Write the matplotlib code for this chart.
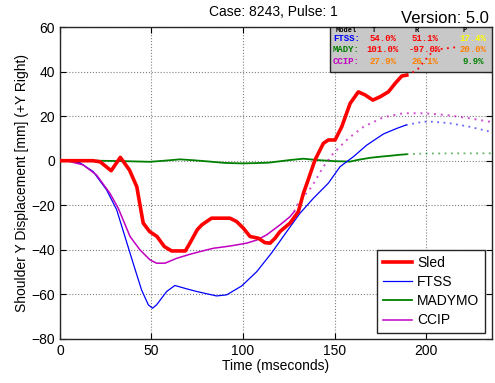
import matplotlib
matplotlib.use('Agg')
import matplotlib.pyplot as plt
from matplotlib.patches import Rectangle

plt.rcParams['font.family'] = ['Liberation Sans', 'DejaVu Sans']

# Sled (measured)
sled_t = [0, 10, 18, 22, 28, 33, 38, 42, 45.5, 49, 53, 57, 61, 65, 68.5, 71, 75, 77.5,
          82.8, 92.9, 96.5, 100.2, 103.8, 108.4, 112, 114.8, 117.5, 120.2, 125.7, 130.2,
          133, 135, 139.3, 143.9, 146.6, 150.3, 153.9, 158.5, 163, 166.7, 170.9, 174.9,
          179.4, 183.1, 186.7, 189.4]
sled_v = [0, 0, 0, -0.5, -4.5, 1.5, -4.2, -11.7, -28, -31.8, -34, -38.5, -40.5, -40.5,
          -40.5, -37, -31, -28.8, -25.8, -25.8, -27.3, -30.3, -34, -34.8, -36.8, -37,
          -34.8, -31.8, -28, -22.9, -14.6, -10, 0.3, 7.8, 9.3, 9.3, 15.2, 25.7, 30.9,
          29.5, 27.2, 28.7, 30.9, 34.7, 38, 38.4]
sled_ext_t = [189.4, 195, 199.5, 203.3, 207.7, 217]
sled_ext_v = [38.4, 40.6, 45.2, 48.8, 50.1, 51]

# FTSS
ftss_t = [0, 5, 10.9, 18.2, 25.5, 31, 35.5, 40, 44.6, 48.3, 50.6, 52.8, 58.3, 62.8,
          69.2, 74.7, 85.6, 91.1, 99.3, 107.5, 115.7, 123.9, 131.1, 138.4, 146.6, 153,
          160.3, 167.6, 176.7, 184, 189]
ftss_v = [0, -0.1, -0.9, -4.9, -13.1, -22, -34, -46, -58, -64.7, -66.2, -64.7, -58.7,
          -56, -57.5, -58.7, -60.7, -60.2, -56.2, -49.8, -41.3, -31.8, -23.6, -16.9,
          -10.1, -2.7, 1.8, 7, 12, 14.5, 16]
ftss_ext_t = [189, 198.5, 204, 213, 224, 236]
ftss_ext_v = [16, 17.5, 17.5, 16.8, 15.2, 12.8]

# MADYMO
mady_t = [0, 20, 35, 49, 57, 65.6, 73, 81.9, 90, 99.3, 106, 113.8, 125.7, 133, 140.3,
          150, 158.5, 163, 169.4, 175, 180.3, 185, 189.4]
mady_v = [0, 0, -0.2, -0.5, 0, 0.6, 0.2, -0.4, -1, -1.2, -1.1, -0.9, 0.3, 0.9, 0.3,
          -0.2, -0.4, 0.4, 1.3, 1.8, 2.2, 2.6, 2.9]
mady_ext_t = [189.4, 198.5, 215, 236]
mady_ext_v = [2.9, 3.2, 3.3, 3.3]

# CCIP
ccip_t = [0, 5, 12.7, 20, 27.3, 31.9, 38.3, 43.7, 49.2, 52.8, 57.4, 63.8, 71, 76.5,
          83.8, 92.9, 102, 107.5, 112.9, 120.2, 125.7, 128]
ccip_v = [0, -0.3, -1.9, -6.4, -14.6, -21.4, -34, -40, -44.5, -46, -46, -43.8, -42,
          -40.8, -39.3, -38.3, -37, -35.6, -33.3, -28.8, -25.1, -22.8]
ccip_ext_t = [128, 130.2, 137.5, 143.9, 149.3, 157.5, 165.8, 176.7, 187.6, 198.5,
              211.3, 224, 236]
ccip_ext_v = [-22.8, -19, -11.7, -2.7, 3.3, 10, 15.2, 19.5, 21.3, 21.3, 20.5, 19, 17.3]

# error table
models = ['FTSS:', 'MADY:', 'CCIP:']
model_colors = ['#0000ff', '#008000', '#c000c0']
col_heads = ['T', 'R', 'P']
err_vals = [['54.0%', '51.1%', '17.4%'],
            ['101.0%', '-97.0%', '20.0%'],
            ['27.9%', '26.1%', '9.9%']]
err_colors = [['#ff0000', '#ff0000', '#ffff00'],
              ['#ff0000', '#ff0000', '#ff8000'],
              ['#ff8000', '#ff8000', '#008000']]

fig = plt.figure(figsize=(4.95, 3.83), dpi=100)
ax = fig.add_axes([0.121, 0.115, 0.873, 0.8145])

red, blue, green, mag = '#ff0000', '#0000ff', '#008000', '#c000c0'
ax.plot(sled_t, sled_v, color=red, lw=2.6, label='Sled', zorder=5)
ax.plot(ftss_t, ftss_v, color=blue, lw=0.9, label='FTSS', zorder=4)
ax.plot(mady_t, mady_v, color=green, lw=1.3, label='MADYMO', zorder=3)
ax.plot(ccip_t, ccip_v, color=mag, lw=1.1, label='CCIP', zorder=4)
ax.plot(ftss_ext_t, ftss_ext_v, color=blue, lw=1.3, ls=(0, (1, 2.5)), alpha=0.6, zorder=3)
ax.plot(mady_ext_t, mady_ext_v, color=green, lw=1.3, ls=(0, (1, 2.5)), alpha=0.6, zorder=3)
ax.plot(ccip_ext_t, ccip_ext_v, color=mag, lw=1.4, ls=(0, (1, 2.5)), alpha=0.7, zorder=3)

ax.set_xlim(0, 236)
ax.set_ylim(-80, 60)
ax.set_xticks([0, 50, 100, 150, 200])
ax.set_yticks(range(-80, 61, 20))
ax.tick_params(direction='in', top=True, right=True, labelsize=10, length=4, width=0.8)
ax.grid(True, ls=':', color='#808080', lw=0.8)
for s in ax.spines.values():
    s.set_color('#262626')
    s.set_linewidth(1.0)
ax.set_xlabel('Time (mseconds)', fontsize=10, labelpad=1)
ax.set_ylabel('Shoulder Y Displacement [mm] (+Y Right)', fontsize=10, labelpad=2)

fig.text(0.552, 0.968, 'Case: 8243, Pulse: 1', ha='center', va='center', fontsize=10)
fig.text(0.988, 0.952, 'Version: 5.0', ha='right', va='center', fontsize=12)

# table box (axes fraction coords)
tx0, tx1 = (330 - 60) / 432, 1.0
ty0 = (339 - 72) / 312
ax.add_patch(Rectangle((tx0, ty0), tx1 - tx0, 1 - ty0, transform=ax.transAxes,
                       facecolor='#c8c8c8', edgecolor='#262626', lw=1.0, zorder=6))
mono = ['Liberation Mono', 'DejaVu Sans Mono']
col_x = [(383 - 60) / 432, (425 - 60) / 432, (473 - 60) / 432]
row_y = [(339 - 38.5) / 312, (339 - 50) / 312, (339 - 62) / 312]
head_y = (339 - 30.5) / 312
ax.text((336 - 60) / 432, head_y, 'Model', transform=ax.transAxes, fontsize=5,
        family=mono, weight='bold', va='center', ha='left', zorder=7)
for j, h in enumerate(col_heads):
    ax.text(col_x[j] - 0.02, head_y, h, transform=ax.transAxes, fontsize=5,
            family=mono, weight='bold', va='center', ha='center', zorder=7)
for i, m in enumerate(models):
    ax.text((333 - 60) / 432, row_y[i], m, transform=ax.transAxes, fontsize=6.5,
            family=mono, weight='bold', color=model_colors[i], va='center', ha='left',
            zorder=7)
    for j in range(3):
        ax.text(col_x[j], row_y[i], err_vals[i][j], transform=ax.transAxes,
                fontsize=6.5, family=mono, weight='bold', color=err_colors[i][j],
                va='center', ha='center', zorder=7)

ax.plot(sled_ext_t, sled_ext_v, color=red, lw=1.3, ls=(0, (1, 2.5)), zorder=8)

leg = ax.legend(loc='lower right', bbox_to_anchor=(0.984, 0.019), fontsize=10,
                fancybox=False, framealpha=1, edgecolor='#262626', handlelength=2.1,
                borderpad=0.4, labelspacing=0.38, handletextpad=0.4, borderaxespad=0)
leg.get_frame().set_linewidth(1.0)
leg.set_zorder(9)

fig.savefig('out.png', dpi=100)
